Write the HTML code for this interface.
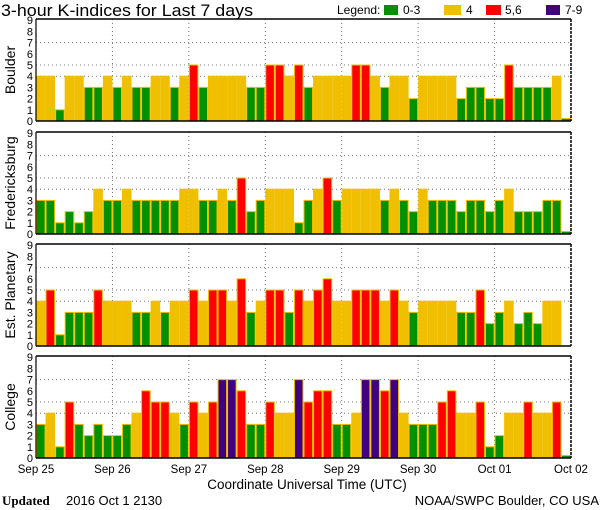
<!DOCTYPE html>
<html><head><meta charset="utf-8"><style>
html,body{margin:0;padding:0;background:#fff;}
svg{display:block;font-family:"Liberation Sans",sans-serif;}
</style></head><body>
<svg id="s" width="600" height="510" xmlns="http://www.w3.org/2000/svg">
<rect width="600" height="510" fill="#fff"/>
<text x="1" y="16" font-size="16.5" textLength="252" lengthAdjust="spacingAndGlyphs">3-hour K-indices for Last 7 days</text>
<text x="337" y="14" font-size="12">Legend:</text>
<rect x="384" y="5" width="14" height="10" fill="#009000"/>
<text x="403" y="14" font-size="12">0-3</text>
<rect x="444" y="5" width="17" height="10" fill="#f0c000"/>
<text x="466" y="14" font-size="12">4</text>
<rect x="486" y="5" width="15" height="10" fill="#ff0000"/>
<text x="505" y="14" font-size="12">5,6</text>
<rect x="546" y="5" width="14" height="10" fill="#400080"/>
<text x="565" y="14" font-size="12">7-9</text>
<g id="panels"></g>
<g font-size="14">
<text transform="translate(15,70) rotate(-90)" text-anchor="middle">Boulder</text>
<text transform="translate(15,183) rotate(-90)" text-anchor="middle">Fredericksburg</text>
<text transform="translate(15,295) rotate(-90)" text-anchor="middle">Est. Planetary</text>
<text transform="translate(15,407) rotate(-90)" text-anchor="middle">College</text>
</g>
<g font-size="11.5" text-anchor="middle">
<text x="36" y="473">Sep 25</text>
<text x="112.4" y="473">Sep 26</text>
<text x="188.9" y="473">Sep 27</text>
<text x="265.3" y="473">Sep 28</text>
<text x="341.7" y="473">Sep 29</text>
<text x="418.1" y="473">Sep 30</text>
<text x="494.6" y="473">Oct 01</text>
<text x="571" y="473">Oct 02</text>
</g>
<text x="307" y="489" font-size="13.5" text-anchor="middle">Coordinate Universal Time (UTC)</text>
<text x="2" y="505" font-size="13" font-family="Liberation Serif,serif" font-weight="bold">Updated</text>
<text x="66" y="505" font-size="13">2016 Oct  1 2130</text>
<text x="599" y="505" font-size="13" text-anchor="end">NOAA/SWPC Boulder, CO USA</text>
</svg>
<script>
var data=[
[4,4,1,4,4,3,3,4,3,4,3,3,4,4,3,4,5,3,4,4,4,4,3,3,5,5,4,5,3,4,4,4,4,5,5,4,3,4,4,2,4,4,4,4,2,3,3,2,2,5,3,3,3,3,4,0],
[3,3,1,2,1,2,4,3,3,4,3,3,3,3,3,4,4,3,3,4,3,5,2,3,4,4,4,1,3,4,5,3,4,4,4,4,3,4,3,2,4,3,3,3,2,3,3,2,3,4,2,2,2,3,3,0],
[4,5,1,3,3,3,5,4,4,4,3,3,4,3,4,4,5,4,5,5,4,6,3,4,5,5,3,5,4,5,6,4,4,5,5,5,4,5,4,3,4,4,4,4,3,3,5,2,3,4,2,3,2,4,4,-1],
[3,4,1,5,3,2,3,2,2,3,4,6,5,5,4,3,5,4,5,7,7,6,3,3,5,4,4,7,5,6,6,3,3,4,7,7,6,7,4,3,3,3,5,6,4,4,5,1,2,4,4,5,4,4,5,0]];
var tops=[19,132,244,356],L=36,R=571,W=(R-L)/56,U=11.2,h='';
function col(v){return v<=3?'#009000':v==4?'#f0c000':v<=6?'#ff0000':'#400080';}
for(var p=0;p<4;p++){var T=tops[p],B=T+102;
 [4,5,7].forEach(function(v){var y=B-v*U;h+='<line x1="'+L+'" x2="'+R+'" y1="'+y+'" y2="'+y+'" stroke="#777" stroke-dasharray="1,3"/>';});
 for(var d=1;d<7;d++){var x=L+d*8*W;h+='<line x1="'+x+'" x2="'+x+'" y1="'+T+'" y2="'+B+'" stroke="#777" stroke-dasharray="1,3"/>';}
 for(var i=0;i<56;i++){var v=data[p][i];if(v<0)continue;var x=L+i*W;
  if(v==0){h+='<rect x="'+x+'" y="'+(B-2.5)+'" width="'+W+'" height="2.5" fill="#009000" stroke="#f0c000" stroke-width="0.8"/>';continue;}
  var y=B-v*U;h+='<rect x="'+(x+0.5)+'" y="'+y+'" width="'+(W-1)+'" height="'+(B-y)+'" fill="'+col(v)+'" stroke="#f0c000" stroke-width="1"/>';}
 h+='<line x1="'+L+'" x2="'+R+'" y1="'+T+'" y2="'+T+'" stroke="#000" stroke-width="1.5"/>';
 h+='<line x1="'+L+'" x2="'+R+'" y1="'+B+'" y2="'+B+'" stroke="#000" stroke-width="1.5"/>';
 h+='<line x1="'+L+'" x2="'+L+'" y1="'+T+'" y2="'+B+'" stroke="#000" stroke-width="1.2"/>';
 h+='<line x1="'+R+'" x2="'+R+'" y1="'+T+'" y2="'+B+'" stroke="#000" stroke-width="1.5" stroke-dasharray="3,1"/>';
 for(var v=0;v<=9;v++){h+='<text x="33" y="'+(B-v*U+4)+'" font-size="11" text-anchor="end">'+v+'</text>';}
}
document.getElementById('panels').innerHTML=h;
</script>
</body></html>
